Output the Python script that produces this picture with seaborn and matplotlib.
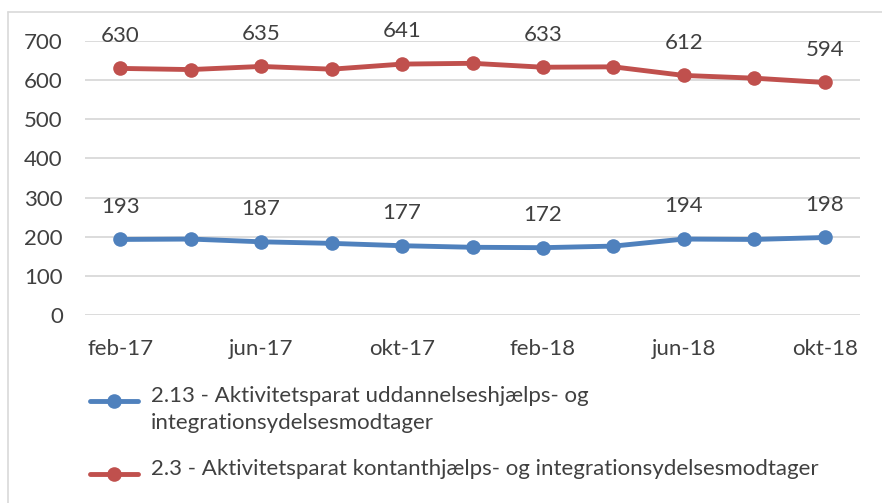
import matplotlib
matplotlib.use("Agg")
import matplotlib.pyplot as plt
from matplotlib.lines import Line2D
import seaborn as sns
import pandas as pd

months = ["feb-17", "apr-17", "jun-17", "aug-17", "okt-17", "dec-17",
          "feb-18", "apr-18", "jun-18", "aug-18", "okt-18"]
blue_vals = [193, 194, 187, 183, 177, 173, 172, 176, 194, 193, 198]
red_vals = [630, 627, 635, 628, 641, 643, 633, 634, 612, 605, 594]
blue_name = "2.13 - Aktivitetsparat uddannelseshjælps- og\nintegrationsydelsesmodtager"
red_name = "2.3 - Aktivitetsparat kontanthjælps- og integrationsydelsesmodtager"
yticks = [0, 100, 200, 300, 400, 500, 600, 700]

BLUE = "#4F81BD"
RED = "#C0504D"
TXT = "#404040"
GRID = "#D9D9D9"

sns.set_theme(style="white")
plt.rcParams["font.family"] = ["Lato", "DejaVu Sans"]
FS = 16

df = pd.DataFrame({
    "pos": list(range(len(months))) * 2,
    "value": blue_vals + red_vals,
    "series": ["blue"] * len(months) + ["red"] * len(months),
})

W, H = 882, 503
fig = plt.figure(figsize=(W / 100, H / 100), dpi=100)
ax = fig.add_axes([85 / W, 1 - 315 / H, (860 - 85) / W, (315 - 41) / H])

sns.lineplot(data=df, x="pos", y="value", hue="series",
             palette={"blue": BLUE, "red": RED}, marker="o",
             markersize=10.5, markeredgewidth=0, linewidth=3.5,
             legend=False, ax=ax, clip_on=False)

ax.set_xlim(-0.5, len(months) - 0.5)
ax.set_ylim(0, 700)
ax.set_yticks(yticks)
ax.set_yticklabels([str(t) for t in yticks])
ax.set_xticks(list(range(0, len(months), 2)))
ax.set_xticklabels(months[::2])
ax.tick_params(axis="y", length=0, pad=16, labelsize=FS, labelcolor=TXT)
ax.tick_params(axis="x", length=0, pad=17, labelsize=FS, labelcolor=TXT)
ax.set_xlabel("")
ax.set_ylabel("")
ax.grid(axis="y", color=GRID, linewidth=1.3)
ax.grid(axis="x", visible=False)
for s in ax.spines.values():
    s.set_visible(False)
ax.set_axisbelow(True)

for vals in (blue_vals, red_vals):
    for i in range(0, len(months), 2):
        ax.annotate(str(vals[i]), (i, vals[i]), xytext=(0, 23.5),
                    textcoords="offset points", ha="center", va="center",
                    fontsize=FS, color=TXT, annotation_clip=False)

# outer chart frame (left and top visible)
fig.add_artist(Line2D([8 / W, 8 / W], [0, 1 - 12 / H], transform=fig.transFigure,
                      color=GRID, linewidth=1.2))
fig.add_artist(Line2D([8 / W, 1], [1 - 12 / H, 1 - 12 / H], transform=fig.transFigure,
                      color=GRID, linewidth=1.2))

# legend
def legend_entry(y_px, color, text):
    fig.add_artist(Line2D([90 / W, 138 / W], [1 - y_px / H] * 2,
                          transform=fig.transFigure, color=color, linewidth=3.5))
    fig.add_artist(Line2D([114 / W], [1 - y_px / H], transform=fig.transFigure,
                          color=color, marker="o", markersize=10.5, markeredgewidth=0))
    fig.text(151 / W, 1 - (y_px - 15) / H, text, ha="left", va="top",
             fontsize=FS, color=TXT, linespacing=1.45)

legend_entry(401, BLUE, blue_name)
legend_entry(474, RED, red_name)

fig.savefig("out.png", dpi=100)
